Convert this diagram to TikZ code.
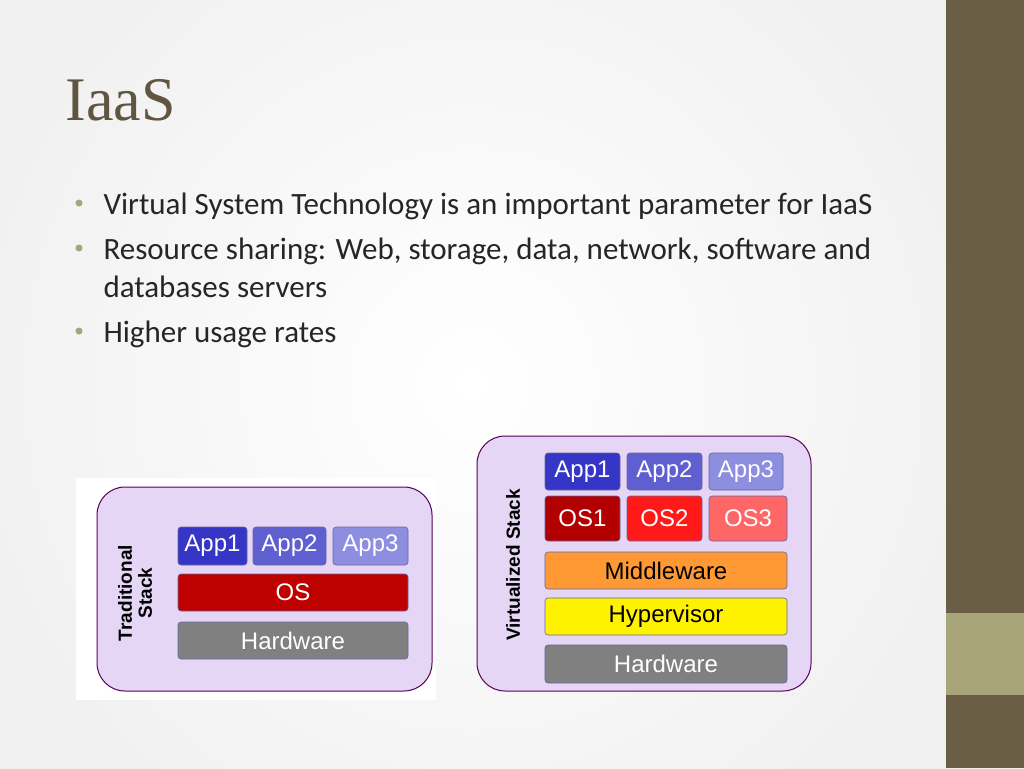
\documentclass[tikz,border=0pt]{standalone}
\usepackage{fontspec}
\setmainfont{Carlito}
\newfontfamily\arialf{Liberation Sans}
\newfontfamily\titlef{Liberation Serif}
\begin{document}
\begin{tikzpicture}[x=1pt,y=-1pt,
  panel/.style={draw=violet!70!black,line width=1pt,fill=panelc,rounded corners=28pt},
  blk/.style={draw=blue!40!black!60,line width=0.6pt,rounded corners=3pt,font=\arialf\fontsize{24}{26}\selectfont,inner sep=0pt},
  bul/.style={anchor=base west,font=\fontsize{31}{34}\selectfont,text=black!85},
  dot/.style={circle,fill=olivec,inner sep=0pt,minimum size=7pt}]
\definecolor{panelc}{HTML}{E5D6F5}
\definecolor{olivec}{HTML}{A9A57A}
\definecolor{sidec}{HTML}{6B5E47}
\definecolor{titlec}{HTML}{5F5540}
\definecolor{app1}{HTML}{3535C6}
\definecolor{app2}{HTML}{5F5FD0}
\definecolor{app3}{HTML}{8E8EE0}
\useasboundingbox (0,0) rectangle (1024,768);
\fill[black!6] (0,0) rectangle (946,768);
\shade[inner color=white,outer color=black!6] (-80,-180) rectangle (1026,948);
\fill[sidec] (946,0) rectangle (1024,768);
\fill[olivec] (946,613) rectangle (1024,695);
\node[anchor=base west,font=\titlef\fontsize{62}{64}\selectfont,text=titlec] (title) at (62,120) {IaaS};
\node[dot] (d1) at (79,203) {};
\node[bul] (b1) at (100,214) {Virtual System Technology is an important parameter for IaaS};
\node[dot] (d2) at (79,248) {};
\node[bul] (b2) at (100,259) {Resource sharing: Web, storage, data, network, software and};
\node[bul] (b2b) at (100,297) {databases servers};
\node[dot] (d3) at (79,331) {};
\node[bul] (b3) at (100,342) {Higher usage rates};
% left panel
\fill[white] (76,478) rectangle (436,700);
\draw[panel] (97,487) rectangle (432,691);
\node[rotate=90,align=center,font=\arialf\bfseries\fontsize{19}{20}\selectfont] (tl) at (135,593) {Traditional\\Stack};
\node[blk,fill=app1,text=white,minimum width=69pt,minimum height=38pt] (la1) at (212.5,546) {App1};
\node[blk,fill=app2,text=white,minimum width=73pt,minimum height=38pt] (la2) at (289.5,546) {App2};
\node[blk,fill=app3,text=white,minimum width=75pt,minimum height=38pt] (la3) at (370.5,546) {App3};
\node[blk,fill=red!75!black,text=white,minimum width=230pt,minimum height=37pt] (los) at (293,592.5) {OS};
\node[blk,fill=black!50,text=white,minimum width=230pt,minimum height=37pt] (lhw) at (293,640.5) {Hardware};
% right panel
\draw[panel] (477,436) rectangle (811,691);
\node[rotate=90,font=\arialf\bfseries\fontsize{19}{20}\selectfont] (vl) at (513,565) {Virtualized Stack};
\node[blk,fill=app1,text=white,minimum width=75pt,minimum height=37pt] (ra1) at (582.5,471.5) {App1};
\node[blk,fill=app2,text=white,minimum width=75pt,minimum height=37pt] (ra2) at (664.5,471.5) {App2};
\node[blk,fill=app3,text=white,minimum width=74pt,minimum height=37pt] (ra3) at (746,471.5) {App3};
\node[blk,fill=red!70!black,text=white,minimum width=75pt,minimum height=45pt] (ro1) at (582.5,518.5) {OS1};
\node[blk,fill=red!90!white,text=white,minimum width=75pt,minimum height=45pt] (ro2) at (664.5,518.5) {OS2};
\node[blk,fill=red!60!white,text=white,minimum width=78pt,minimum height=45pt] (ro3) at (748,518.5) {OS3};
\node[blk,fill=orange!80!white,minimum width=242pt,minimum height=37pt] (mw) at (666,570.5) {Middleware};
\node[blk,fill=yellow,minimum width=242pt,minimum height=37pt] (hv) at (666,616.5) {Hypervisor};
\node[blk,fill=black!50,text=white,minimum width=242pt,minimum height=38pt] (rhw) at (666,664) {Hardware};
\end{tikzpicture}
\end{document}
